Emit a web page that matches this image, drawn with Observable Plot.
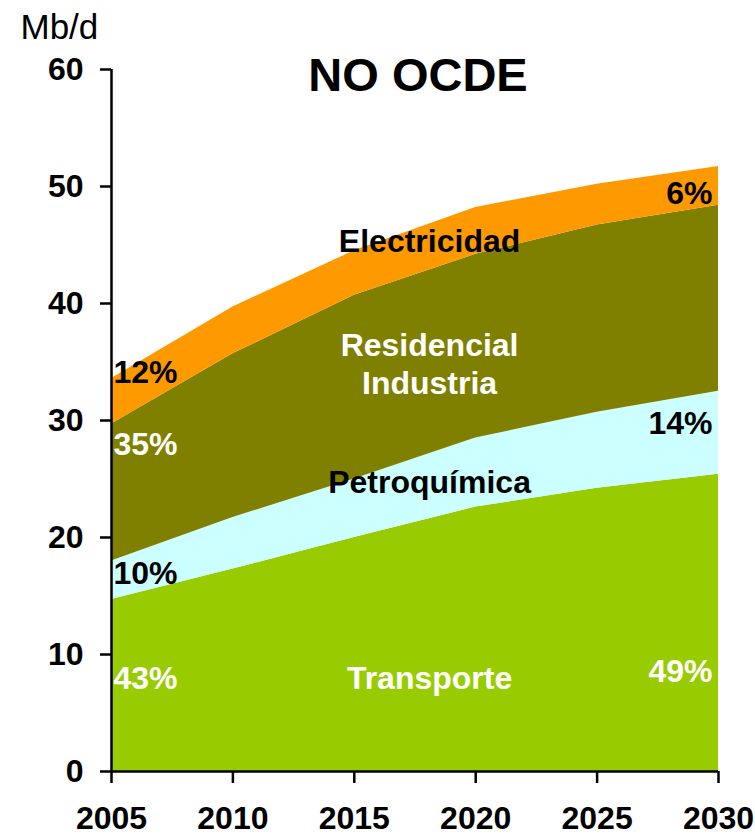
<!DOCTYPE html>
<html>
<head>
<meta charset="utf-8">
<script src="https://cdn.jsdelivr.net/npm/d3@7"></script>
<script src="https://cdn.jsdelivr.net/npm/@observablehq/plot@0.6"></script>
<style>
  html, body { margin: 0; padding: 0; background: white; }
  #chart { width: 755px; height: 835px; }
</style>
</head>
<body>
<div id="chart"></div>
<script>
// ---- Data ----
const years = [2005, 2010, 2015, 2020, 2025, 2030];
const series = ["Transporte", "Petroquímica", "Residencial Industria", "Electricidad"];
const transporte   = [14.7, 17.3, 20.0, 22.6, 24.2, 25.4];
const petroquimica = [3.3, 4.4, 5.0, 5.9, 6.5, 7.1];
const residencial  = [11.7, 14.0, 15.7, 15.7, 16.0, 15.9];
const electricidad = [3.9, 4.0, 3.8, 4.0, 3.5, 3.3];
const colors = ["#99CC00", "#CCFFFF", "#808000", "#FF9900"];

const yTicks = [0, 10, 20, 30, 40, 50, 60];
const xTicks = [2005, 2010, 2015, 2020, 2025, 2030];

// area name labels
const nameTexts  = ["Electricidad", "Residencial\nIndustria", "Petroquímica", "Transporte"];
const nameYear   = [2018.1, 2018.1, 2018.1, 2018.1];
const nameValue  = [45.4, 34.9, 24.8, 8.1];
const nameColors = ["black", "white", "black", "white"];

// share labels at 2005 (left) and 2030 (right)
const leftTexts  = ["12%", "35%", "10%", "43%"];
const leftValue  = [34.1, 27.9, 16.9, 7.9];
const leftColors = ["black", "white", "black", "white"];
const rightTexts  = ["6%", "14%", "49%"];
const rightValue  = [49.4, 29.7, 8.5];
const rightColors = ["black", "black", "white"];

// ---- Build tidy table ----
const valuesBySeries = [transporte, petroquimica, residencial, electricidad];
const table = [];
series.forEach((s, i) => years.forEach((yr, j) => table.push({series: s, year: yr, value: valuesBySeries[i][j]})));

const names = nameTexts.map((t, i) => ({t, x: nameYear[i], y: nameValue[i], c: nameColors[i]}));
const lefts = leftTexts.map((t, i) => ({t, x: years[0], y: leftValue[i], c: leftColors[i]}));
const rights = rightTexts.map((t, i) => ({t, x: years[years.length - 1], y: rightValue[i], c: rightColors[i]}));

const font = "'Liberation Sans', Arial, Helvetica, sans-serif";

const chart = Plot.plot({
  width: 755,
  height: 835,
  marginLeft: 111,
  marginRight: 37,
  marginTop: 69,
  marginBottom: 64,
  x: {domain: [2005, 2030]},
  y: {domain: [0, 60]},
  color: {domain: series, range: colors},
  style: {fontFamily: font, color: "black", background: "white", overflow: "visible"},
  marks: [
    Plot.areaY(table, {x: "year", y: "value", fill: "series", order: series}),
    Plot.ruleY([0], {stroke: "black", strokeWidth: 2.5}),
    Plot.ruleX([2005], {stroke: "black", strokeWidth: 2.5}),
    Plot.axisY({ticks: yTicks, tickSize: 11, tickPadding: 17, fontSize: 32, fontWeight: "bold", strokeWidth: 2.5, label: null, tickFormat: d => String(d)}),
    Plot.axisX({ticks: xTicks, tickSize: 12, tickPadding: 23, fontSize: 32, fontWeight: "bold", strokeWidth: 2.5, label: null, tickFormat: d => String(d)}),
    Plot.text(names, {x: "x", y: "y", text: "t", fill: "c", fontSize: 32, fontWeight: "bold", textAnchor: "middle", lineAnchor: "middle", lineHeight: 1.16}),
    Plot.text(lefts, {x: "x", y: "y", text: "t", fill: "c", fontSize: 32, fontWeight: "bold", textAnchor: "start", lineAnchor: "middle", dx: 2}),
    Plot.text(rights, {x: "x", y: "y", text: "t", fill: "c", fontSize: 32, fontWeight: "bold", textAnchor: "end", lineAnchor: "middle", dx: -6}),
    Plot.text(["NO OCDE"], {frameAnchor: "top", fontSize: 47, fontWeight: "bold", lineAnchor: "middle", dx: 3, dy: 6.5}),
    Plot.text(["Mb/d"], {frameAnchor: "top-left", fontSize: 35, textAnchor: "start", lineAnchor: "middle", dx: -91, dy: -41.5})
  ]
});
document.getElementById("chart").appendChild(chart);
</script>
</body>
</html>
